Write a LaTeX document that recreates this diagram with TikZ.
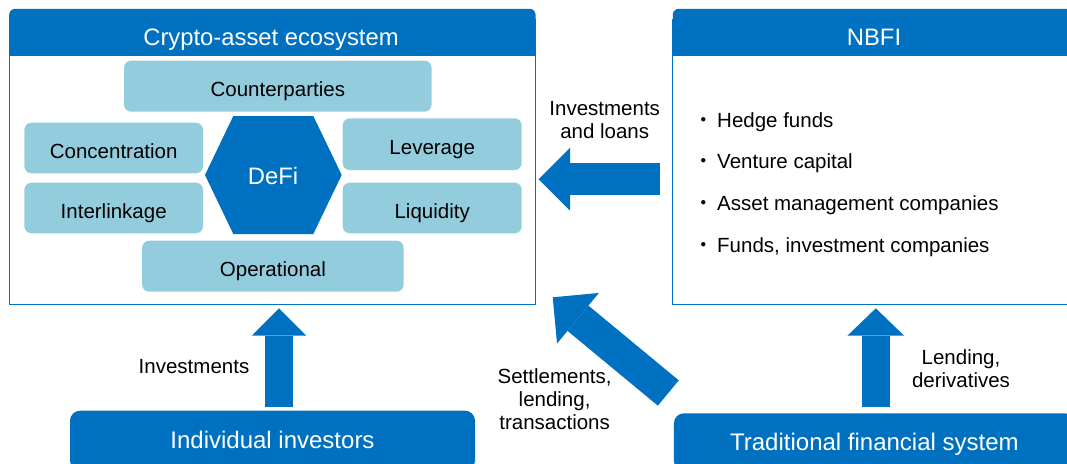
\documentclass[tikz,border=0pt]{standalone}
\usepackage{fontspec}
\setmainfont{Liberation Sans}
\newfontfamily\cjk{Noto Sans CJK JP}
\usetikzlibrary{arrows.meta, positioning}
\definecolor{bisblue}{RGB}{0,112,192}
\definecolor{risklight}{RGB}{147,205,221}
\tikzset{
  riskbox/.style={rectangle, fill=risklight, rounded corners=7pt, inner sep=0pt,
                  text height=21.5pt, text depth=0pt,
                  font=\fontsize{20.5}{24}\selectfont},
  panelline/.style={draw=bisblue, line width=1.3pt},
  headfill/.style={fill=bisblue, rounded corners=6pt},
  headtext/.style={anchor=base, inner sep=0pt, text=white, font=\fontsize{23.8}{28}\selectfont},
  sectorbox/.style={rectangle, fill=bisblue, rounded corners=10pt, inner sep=0pt,
                    text height=15.4pt, text depth=0pt,
                    text=white, font=\fontsize{24}{28}\selectfont},
  flowarrow/.style={draw=bisblue, line width=#1},
  flowlabel/.style={align=center, font=\fontsize{20.5}{23}\selectfont},
  listitem/.style={anchor=base west, inner sep=0pt, font=\fontsize{20.5}{24}\selectfont},
}

\begin{document}
\begin{tikzpicture}[x=1pt, y=-1pt]
  \useasboundingbox (0,0) rectangle (1067,463);
  \clip (0,0) rectangle (1067,463);

  % Crypto-asset ecosystem panel
  \node[minimum width=526pt, minimum height=295pt, inner sep=0pt] (crypto) at (272.4,156.5) {};
  \draw[panelline] ([yshift=-10pt]crypto.north west) |- (crypto.south east) -- ([yshift=-10pt]crypto.north east);
  \fill[headfill] ([yshift=-47pt]crypto.north west) -- (crypto.north west) -- (crypto.north east) -- ([yshift=-47pt]crypto.north east);
  \node[headtext] (cryptotitle) at (271,45.7) {Crypto-asset ecosystem};

  % Risks around DeFi
  \node[riskbox, minimum width=307.5pt, minimum height=51pt] (counter) at (277.8,86.2) {Counterparties};
  \node[riskbox, minimum width=178.6pt, minimum height=50.6pt] (concentr) at (113.7,148) {Concentration};
  \node[riskbox, minimum width=178.6pt, minimum height=50.6pt] (interlink) at (113.7,208) {Interlinkage};
  \node[riskbox, minimum width=179pt, minimum height=51.7pt] (leverage) at (432.2,144.2) {Leverage};
  \node[riskbox, minimum width=179pt, minimum height=50.6pt] (liquid) at (432.2,208) {Liquidity};
  \node[riskbox, minimum width=261.4pt, minimum height=51pt] (operat) at (272.9,266.2) {Operational};

  % DeFi hexagon
  \fill[bisblue] (205,175) -- (233.3,116) -- (313.3,116) -- (341.7,175) -- (313.3,234) -- (233.3,234) -- cycle;
  \node[headtext] (defi) at (273,184) {DeFi};

  % NBFI panel
  \node[minimum width=402pt, minimum height=295pt, inner sep=0pt] (nbfi) at (874,156.5) {};
  \draw[panelline] ([yshift=-10pt]nbfi.north west) |- (nbfi.south east) -- ([yshift=-10pt]nbfi.north east);
  \fill[headfill] ([yshift=-47pt]nbfi.north west) -- (nbfi.north west) -- (nbfi.north east) -- ([yshift=-47pt]nbfi.north east);
  \node[headtext] (nbfititle) at (874,45.7) {NBFI};
  \foreach \item [count=\i] in {Hedge funds, Venture capital, Asset management companies, {Funds, investment companies}}
    \node[listitem] (item\i) at (693.5,{127.3+41.6*(\i-1)}) {{\cjk ・}\hspace{3pt}\item};

  % Sectors
  \node[sectorbox, minimum width=405pt, minimum height=60pt] (indiv) at (272.5,440.7) {Individual investors};
  \node[sectorbox, minimum width=401pt, minimum height=58pt] (tradfi) at (874.4,442.3) {Traditional financial system};

  % Flows
  \coordinate (loansfrom) at (660,179.3);
  \coordinate (loansto) at (538.6,179.3);
  \coordinate (investfrom) at (279,406.7);
  \coordinate (investto) at (279,308.3);
  \coordinate (settlefrom) at (668.3,393);
  \coordinate (settleto) at (552.7,297.3);
  \coordinate (lendfrom) at (875.8,406.7);
  \coordinate (lendto) at (875.8,308.3);
  \draw[flowarrow=31.7pt, -{Triangle[length=31.4pt, width=62.7pt, line width=0pt]}] (loansfrom) -- (loansto);
  \draw[flowarrow=27.2pt, -{Triangle[length=27.4pt, width=54.4pt, line width=0pt]}] (investfrom) -- (investto);
  \draw[flowarrow=32.8pt, -{Triangle[length=32.8pt, width=65.6pt, line width=0pt]}] (settlefrom) -- (settleto);
  \draw[flowarrow=27.9pt, -{Triangle[length=27.4pt, width=56.7pt, line width=0pt]}] (lendfrom) -- (lendto);

  % Flow labels
  \node[flowlabel] (loanslabel) at (604.7,120) {Investments\\and loans};
  \node[flowlabel] (investlabel) at (194,366.7) {Investments};
  \node[flowlabel] (settlelabel) at (554.6,399) {Settlements,\\lending,\\transactions};
  \node[flowlabel] (lendlabel) at (961,368.8) {Lending,\\derivatives};
\end{tikzpicture}
\end{document}
